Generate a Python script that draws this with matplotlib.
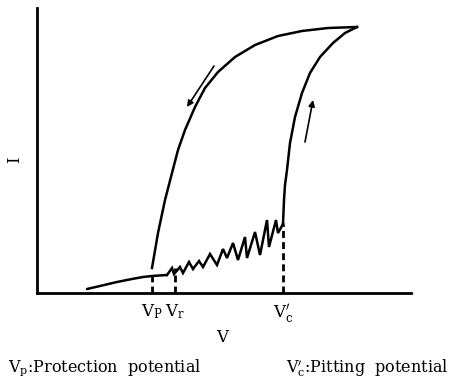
import matplotlib
matplotlib.use("Agg")
import matplotlib.pyplot as plt

plt.rcParams['font.family'] = ['DejaVu Serif']
plt.rcParams['mathtext.fontset'] = 'dejavuserif'

# Passive region (forward scan, below protection potential)
passive_v = [50, 63, 80, 95, 106, 115, 130]
passive_i = [4, 7, 11, 14, 16, 17, 18]

# Metastable pitting zigzag (forward scan)
zig_v = [130, 135, 137, 143, 146, 152, 156, 162, 166, 173, 180, 186, 190, 196,
         201, 208, 210, 218, 223, 230, 232, 239, 241, 246]
zig_i = [18, 25, 19, 26, 20, 31, 24, 32, 26, 39, 28, 44, 35, 50, 33, 56, 35,
         61, 38, 73, 46, 73, 60, 69]

# Stable pitting, forward scan after V'c
fwd_v = [246, 247, 248, 250, 253, 258, 265, 273, 283, 296, 308, 320]
fwd_i = [69, 93, 108, 123, 150, 176, 200, 220, 236, 250, 260, 266]

# Reverse scan
rev_v = [320, 291, 265, 241, 218, 198, 181, 168, 158, 148, 141, 135, 128, 121, 115]
rev_i = [266, 265, 262, 257, 248, 236, 221, 205, 186, 163, 143, 120, 93, 60, 25]

# Characteristic potentials
mark_v = [115, 138, 246]
mark_i = [18, 25, 69]
mark_labels = [r'V$_{\rm P}$', r'V$_{\rm r}$', r"V$_{\rm c}'$"]

# Scan direction arrows (tail, head)
arrow_rev = [(177, 227), (150, 186)]
arrow_fwd = [(268, 151), (276, 193)]

fig = plt.figure(figsize=(4.51, 3.83), dpi=100)
ax = fig.add_axes([37/451, 90/383, 374/451, 285/383])
ax.set_xlim(0, 374)
ax.set_ylim(0, 285)

lw = 1.8
ax.plot(passive_v, passive_i, color='black', lw=lw, solid_capstyle='round')
ax.plot(zig_v, zig_i, color='black', lw=lw, solid_joinstyle='miter')
ax.plot(fwd_v, fwd_i, color='black', lw=lw, solid_joinstyle='round')
ax.plot(rev_v, rev_i, color='black', lw=lw, solid_joinstyle='round')

for v, i in zip(mark_v, mark_i):
    ax.plot([v, v], [0, i], color='black', lw=2, linestyle=(0, (2.5, 1.5)))

for (t, h) in (arrow_rev, arrow_fwd):
    ax.annotate('', xy=h, xytext=t,
                arrowprops=dict(arrowstyle='-|>', color='black', lw=1.2,
                                mutation_scale=9, shrinkA=0, shrinkB=0))

for side in ('top', 'right'):
    ax.spines[side].set_visible(False)
for side in ('left', 'bottom'):
    ax.spines[side].set_linewidth(2)
ax.set_xticks([])
ax.set_yticks([])

for v, lab in zip(mark_v, mark_labels):
    ax.text(v, -9, lab, ha='center', va='top', fontsize=12)

fig.text(15/451, 1 - 160/383, 'I', rotation=90, ha='center', va='center', fontsize=12)
fig.text(222/451, 1 - 338/383, 'V', ha='center', va='center', fontsize=12)
fig.text(8/451, 1 - 368/383, r'V$_{\rm p}$:Protection  potential', ha='left', va='center', fontsize=11.5)
fig.text(448/451, 1 - 368/383, r"V$_{\rm c}'$:Pitting  potential", ha='right', va='center', fontsize=11.5)

fig.savefig('out.png', dpi=100)
